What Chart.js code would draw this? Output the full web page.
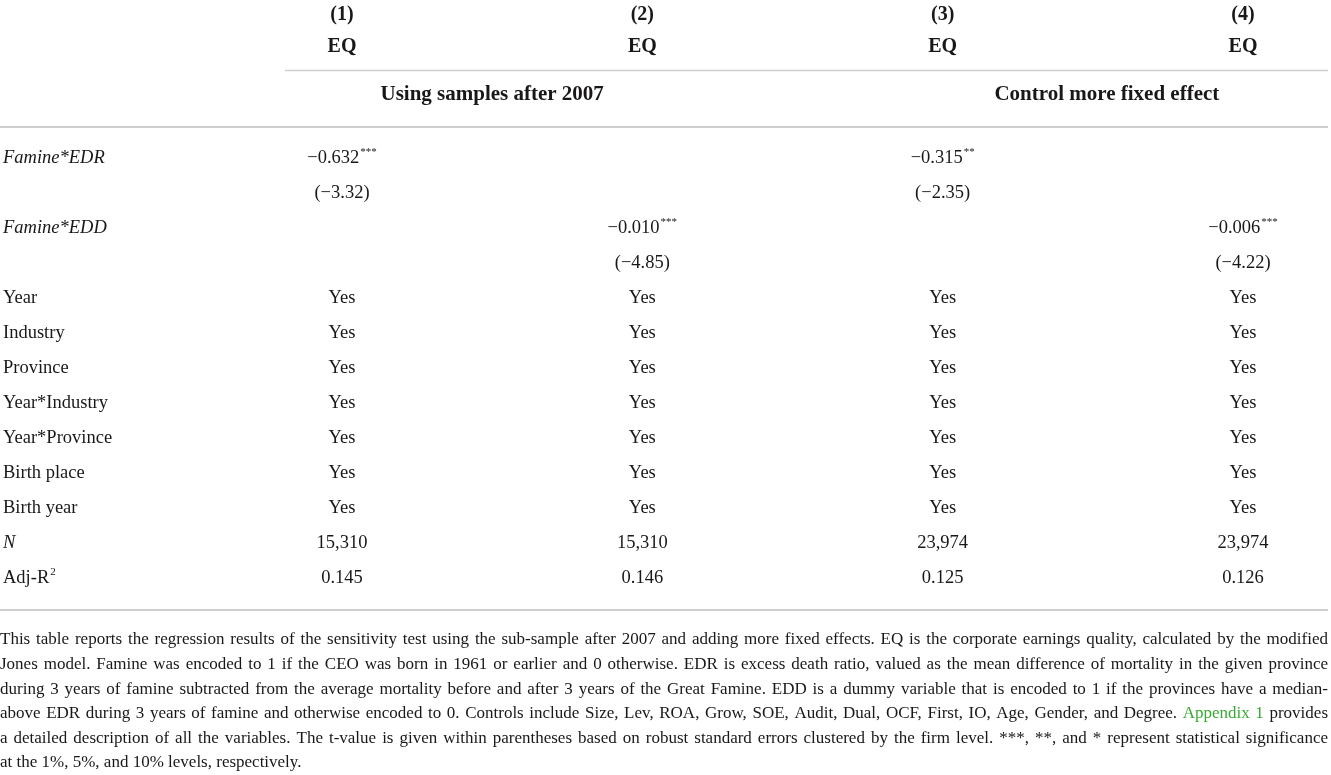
<!DOCTYPE html>
<html>
<head>
<meta charset="utf-8">
<script src="https://cdn.jsdelivr.net/npm/chart.js@4.4.0/dist/chart.umd.min.js"></script>
<style>
  body { margin: 0; background: #fff; }
  #wrap { width: 1331px; height: 775px; }
</style>
</head>
<body>
<div id="wrap"><canvas id="tbl" width="1331" height="775"></canvas></div>
<script>
// table content
const columns = ['(1)', '(2)', '(3)', '(4)'];
const depVar = ['EQ', 'EQ', 'EQ', 'EQ'];
const groups = ['Using samples after 2007', 'Control more fixed effect'];
const groupSpan = [[0, 1], [2, 3]];

const edrCoef = [-0.632, null, -0.315, null];
const edrStars = [3, 0, 2, 0];
const edrT = [-3.32, null, -2.35, null];
const eddCoef = [null, -0.010, null, -0.006];
const eddStars = [0, 3, 0, 3];
const eddT = [null, -4.85, null, -4.22];

const fixedEffects = ['Year', 'Industry', 'Province', 'Year*Industry', 'Year*Province', 'Birth place', 'Birth year'];
const fixedIncluded = ['Yes', 'Yes', 'Yes', 'Yes'];
const obs = [15310, 15310, 23974, 23974];
const adjR2 = [0.145, 0.146, 0.125, 0.126];

const noteLines = [
  'This table reports the regression results of the sensitivity test using the sub-sample after 2007 and adding more fixed effects. EQ is the corporate earnings quality, calculated by the modified',
  'Jones model. Famine was encoded to 1 if the CEO was born in 1961 or earlier and 0 otherwise. EDR is excess death ratio, valued as the mean difference of mortality in the given province',
  'during 3 years of famine subtracted from the average mortality before and after 3 years of the Great Famine. EDD is a dummy variable that is encoded to 1 if the provinces have a median-',
  'above EDR during 3 years of famine and otherwise encoded to 0. Controls include Size, Lev, ROA, Grow, SOE, Audit, Dual, OCF, First, IO, Age, Gender, and Degree. Appendix 1 provides',
  'a detailed description of all the variables. The t-value is given within parentheses based on robust standard errors clustered by the firm level. ***, **, and * represent statistical significance',
  'at the 1%, 5%, and 10% levels, respectively.'
];

const SERIF = '"Liberation Serif", "DejaVu Serif", serif';
const INK = '#1a1718';
const RULE = '#cfcfcf';

function fmtNum(v, d) {
  const s = Math.abs(v).toFixed(d);
  return (v < 0 ? '\u2212' : '') + s;
}
function fmtInt(v) {
  return v.toLocaleString('en-US');
}

// build the rows: label, italic flag, cells
const rows = [];
rows.push({ label: 'Famine*EDR', italic: true, cells: edrCoef.map((v, i) => v == null ? null : { txt: fmtNum(v, 3), sup: '*'.repeat(edrStars[i]) }) });
rows.push({ label: '', cells: edrT.map(v => v == null ? null : { txt: '(' + fmtNum(v, 2) + ')' }) });
rows.push({ label: 'Famine*EDD', italic: true, cells: eddCoef.map((v, i) => v == null ? null : { txt: fmtNum(v, 3), sup: '*'.repeat(eddStars[i]) }) });
rows.push({ label: '', cells: eddT.map(v => v == null ? null : { txt: '(' + fmtNum(v, 2) + ')' }) });
fixedEffects.forEach(fe => {
  rows.push({ label: fe, cells: fixedIncluded.map(v => ({ txt: v })) });
});
rows.push({ label: 'N', italic: true, cells: obs.map(v => ({ txt: fmtInt(v) })) });
rows.push({ label: 'Adj-R', labelSup: '2', cells: adjR2.map(v => ({ txt: v.toFixed(3) })) });

function drawSup(ctx, x, y, main, sup, size, align) {
  ctx.font = size + 'px ' + SERIF;
  const w1 = ctx.measureText(main).width;
  ctx.font = Math.round(size * 0.62) + 'px ' + SERIF;
  const w2 = sup ? ctx.measureText(sup).width + 1 : 0;
  let x0 = align === 'center' ? x - (w1 + w2) / 2 : x;
  ctx.textAlign = 'left';
  ctx.font = size + 'px ' + SERIF;
  ctx.fillText(main, x0, y);
  if (sup) {
    ctx.font = Math.round(size * 0.62) + 'px ' + SERIF;
    ctx.fillText(sup, x0 + w1 + 1, y - size * 0.3);
  }
}

const tablePlugin = {
  id: 'tablePlugin',
  afterDraw(chart) {
    const ctx = chart.ctx;
    const xs = chart.scales.x, ys = chart.scales.y;
    const size = 18.5;
    ctx.save();
    ctx.fillStyle = INK;
    ctx.textBaseline = 'middle';

    // header: column numbers and dependent variable
    columns.forEach((c, i) => {
      const x = xs.getPixelForValue(i);
      ctx.font = 'bold 20px ' + SERIF;
      ctx.textAlign = 'center';
      ctx.fillText(c, x, ys.getPixelForValue(-4.09));
      ctx.fillText(depVar[i], x, ys.getPixelForValue(-3.17));
    });
    // group titles
    groups.forEach((g, k) => {
      const x = (xs.getPixelForValue(groupSpan[k][0]) + xs.getPixelForValue(groupSpan[k][1])) / 2;
      ctx.font = 'bold 21px ' + SERIF;
      ctx.textAlign = 'center';
      ctx.fillText(g, x + (k === 1 ? 14 : 0), ys.getPixelForValue(-1.8));
    });

    // rows
    rows.forEach((r, ri) => {
      const y = ys.getPixelForValue(ri);
      if (r.label) {
        ctx.fillStyle = INK;
        if (r.italic) {
          ctx.font = 'italic ' + size + 'px ' + SERIF;
          ctx.textAlign = 'left';
          ctx.fillText(r.label, 3, y);
        } else {
          drawSup(ctx, 3, y, r.label, r.labelSup, size, 'left');
        }
      }
      r.cells.forEach((c, ci) => {
        if (!c) return;
        drawSup(ctx, xs.getPixelForValue(ci), y, c.txt, c.sup, size, 'center');
      });
    });

    // rules
    ctx.strokeStyle = RULE;
    ctx.lineWidth = 1.5;
    ctx.beginPath();
    ctx.moveTo(285, Math.round(ys.getPixelForValue(-2.51)) + 0.5);
    ctx.lineTo(1328, Math.round(ys.getPixelForValue(-2.51)) + 0.5);
    ctx.stroke();
    ctx.lineWidth = 2;
    [-0.88, 12.91].forEach(v => {
      const y = Math.round(ys.getPixelForValue(v));
      ctx.beginPath();
      ctx.moveTo(0, y);
      ctx.lineTo(1328, y);
      ctx.stroke();
    });

    // footnote, justified
    const noteTop = ys.getPixelForValue(12.91) + 30;
    const lh = 24.6;
    ctx.font = '17px ' + SERIF;
    ctx.textAlign = 'left';
    noteLines.forEach((line, li) => {
      const y = noteTop + li * lh;
      const words = line.split(' ');
      const last = li === noteLines.length - 1;
      const widths = words.map(w => ctx.measureText(w).width);
      const total = widths.reduce((a, b) => a + b, 0);
      const gap = last ? ctx.measureText(' ').width : (1328 - total) / (words.length - 1);
      let x = 0;
      words.forEach((w, wi) => {
        const isLink = (w === 'Appendix' && words[wi + 1] === '1') || (w === '1' && words[wi - 1] === 'Appendix');
        ctx.fillStyle = isLink ? '#3aa935' : INK;
        ctx.fillText(w, x, y);
        x += widths[wi] + gap;
      });
    });
    ctx.restore();
  }
};

new Chart(document.getElementById('tbl'), {
  type: 'scatter',
  data: { datasets: [{ data: [] }] },
  options: {
    responsive: false,
    animation: false,
    devicePixelRatio: 1,
    layout: { padding: { left: 342, right: 88, top: 158, bottom: 197 } },
    plugins: { legend: { display: false }, tooltip: { enabled: false } },
    scales: {
      x: { type: 'linear', min: 0, max: columns.length - 1, display: false },
      y: { type: 'linear', min: 0, max: rows.length - 1, reverse: true, display: false }
    }
  },
  plugins: [tablePlugin]
});
</script>
</body>
</html>
